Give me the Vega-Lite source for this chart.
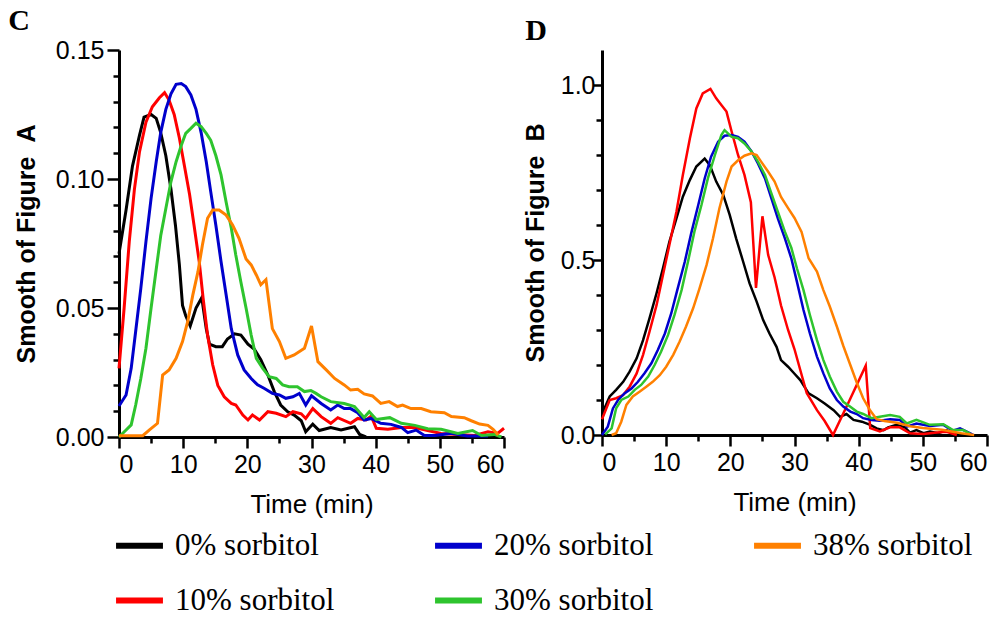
{
"$schema": "https://vega.github.io/schema/vega-lite/v6.json",
"background": "white",
"padding": {"left": 8, "top": 6, "right": 5, "bottom": 5},
"spacing": 13,
"config": {
  "view": {"stroke": null},
  "axis": {"domainColor": "black", "domainWidth": 3, "tickColor": "black", "tickWidth": 2.5, "labelFont": "Liberation Sans", "labelFontSize": 25, "labelColor": "black", "titleFont": "Liberation Sans", "titleColor": "black", "grid": false}
},
"datasets": {
"C": [
{"s":"0% sorbitol","t":0,"v":0.071},{"s":"0% sorbitol","t":1.1,"v":0.088},{"s":"0% sorbitol","t":2.1,"v":0.105},{"s":"0% sorbitol","t":3.2,"v":0.117},{"s":"0% sorbitol","t":3.9,"v":0.124},{"s":"0% sorbitol","t":5.0,"v":0.125},{"s":"0% sorbitol","t":5.8,"v":0.1235},{"s":"0% sorbitol","t":6.5,"v":0.118},{"s":"0% sorbitol","t":7.3,"v":0.109},{"s":"0% sorbitol","t":8.1,"v":0.096},{"s":"0% sorbitol","t":8.8,"v":0.082},{"s":"0% sorbitol","t":9.4,"v":0.067},{"s":"0% sorbitol","t":9.9,"v":0.051},{"s":"0% sorbitol","t":10.4,"v":0.047},{"s":"0% sorbitol","t":11.1,"v":0.043},{"s":"0% sorbitol","t":12.0,"v":0.050},{"s":"0% sorbitol","t":12.9,"v":0.054},{"s":"0% sorbitol","t":13.6,"v":0.042},{"s":"0% sorbitol","t":14.1,"v":0.036},{"s":"0% sorbitol","t":15.1,"v":0.035},{"s":"0% sorbitol","t":16.1,"v":0.035},{"s":"0% sorbitol","t":16.9,"v":0.038},{"s":"0% sorbitol","t":18.0,"v":0.040},{"s":"0% sorbitol","t":19.0,"v":0.0395},{"s":"0% sorbitol","t":20.1,"v":0.036},{"s":"0% sorbitol","t":21.1,"v":0.034},{"s":"0% sorbitol","t":22.1,"v":0.030},{"s":"0% sorbitol","t":23.2,"v":0.024},{"s":"0% sorbitol","t":24.2,"v":0.0176},{"s":"0% sorbitol","t":25.2,"v":0.0124},{"s":"0% sorbitol","t":26.3,"v":0.0098},{"s":"0% sorbitol","t":27.3,"v":0.0085},{"s":"0% sorbitol","t":28.4,"v":0.0063},{"s":"0% sorbitol","t":29.1,"v":0.002},{"s":"0% sorbitol","t":30.2,"v":0.005},{"s":"0% sorbitol","t":31.2,"v":0.0025},{"s":"0% sorbitol","t":33.0,"v":0.0037},{"s":"0% sorbitol","t":34.6,"v":0.0027},{"s":"0% sorbitol","t":36.7,"v":0.004},{"s":"0% sorbitol","t":37.5,"v":0.001},{"s":"0% sorbitol","t":38.5,"v":0},
{"s":"10% sorbitol","t":0,"v":0.0266},{"s":"10% sorbitol","t":0.8,"v":0.050},{"s":"10% sorbitol","t":1.6,"v":0.0757},{"s":"10% sorbitol","t":2.4,"v":0.096},{"s":"10% sorbitol","t":3.2,"v":0.1106},{"s":"10% sorbitol","t":4.2,"v":0.122},{"s":"10% sorbitol","t":5.2,"v":0.128},{"s":"10% sorbitol","t":6.3,"v":0.1315},{"s":"10% sorbitol","t":7.1,"v":0.1335},{"s":"10% sorbitol","t":7.8,"v":0.1306},{"s":"10% sorbitol","t":8.6,"v":0.125},{"s":"10% sorbitol","t":9.4,"v":0.116},{"s":"10% sorbitol","t":10.2,"v":0.105},{"s":"10% sorbitol","t":11.0,"v":0.094},{"s":"10% sorbitol","t":11.7,"v":0.082},{"s":"10% sorbitol","t":12.5,"v":0.068},{"s":"10% sorbitol","t":13.1,"v":0.054},{"s":"10% sorbitol","t":13.8,"v":0.0395},{"s":"10% sorbitol","t":14.6,"v":0.028},{"s":"10% sorbitol","t":15.4,"v":0.020},{"s":"10% sorbitol","t":16.4,"v":0.0156},{"s":"10% sorbitol","t":17.5,"v":0.013},{"s":"10% sorbitol","t":18.2,"v":0.0124},{"s":"10% sorbitol","t":19.3,"v":0.0085},{"s":"10% sorbitol","t":20.1,"v":0.0066},{"s":"10% sorbitol","t":20.8,"v":0.0085},{"s":"10% sorbitol","t":21.9,"v":0.0066},{"s":"10% sorbitol","t":23.2,"v":0.0098},{"s":"10% sorbitol","t":24.5,"v":0.0092},{"s":"10% sorbitol","t":26.0,"v":0.0079},{"s":"10% sorbitol","t":27.1,"v":0.0098},{"s":"10% sorbitol","t":28.4,"v":0.009},{"s":"10% sorbitol","t":29.1,"v":0.0072},{"s":"10% sorbitol","t":30.2,"v":0.011},{"s":"10% sorbitol","t":31.5,"v":0.0079},{"s":"10% sorbitol","t":33.0,"v":0.0053},{"s":"10% sorbitol","t":34.1,"v":0.0075},{"s":"10% sorbitol","t":36.1,"v":0.0053},{"s":"10% sorbitol","t":37.2,"v":0.0072},{"s":"10% sorbitol","t":38.5,"v":0.0066},{"s":"10% sorbitol","t":39.3,"v":0.0081},{"s":"10% sorbitol","t":40.1,"v":0.0034},{"s":"10% sorbitol","t":41.9,"v":0.003},{"s":"10% sorbitol","t":44.0,"v":0.0037},{"s":"10% sorbitol","t":46.1,"v":0.0037},{"s":"10% sorbitol","t":48.1,"v":0.0025},{"s":"10% sorbitol","t":50.2,"v":0.0014},{"s":"10% sorbitol","t":52.8,"v":0.001},{"s":"10% sorbitol","t":55.4,"v":0.0006},{"s":"10% sorbitol","t":57.5,"v":0.002},{"s":"10% sorbitol","t":59.0,"v":0.0014},{"s":"10% sorbitol","t":60.0,"v":0.0034},
{"s":"20% sorbitol","t":0,"v":0.012},{"s":"20% sorbitol","t":1.1,"v":0.0163},{"s":"20% sorbitol","t":1.9,"v":0.0266},{"s":"20% sorbitol","t":2.6,"v":0.041},{"s":"20% sorbitol","t":3.4,"v":0.0576},{"s":"20% sorbitol","t":4.2,"v":0.0757},{"s":"20% sorbitol","t":5.0,"v":0.0925},{"s":"20% sorbitol","t":5.8,"v":0.1067},{"s":"20% sorbitol","t":6.5,"v":0.118},{"s":"20% sorbitol","t":7.3,"v":0.127},{"s":"20% sorbitol","t":8.1,"v":0.133},{"s":"20% sorbitol","t":8.9,"v":0.1367},{"s":"20% sorbitol","t":9.7,"v":0.137},{"s":"20% sorbitol","t":10.4,"v":0.1358},{"s":"20% sorbitol","t":11.2,"v":0.1326},{"s":"20% sorbitol","t":12.0,"v":0.127},{"s":"20% sorbitol","t":12.8,"v":0.118},{"s":"20% sorbitol","t":13.6,"v":0.1067},{"s":"20% sorbitol","t":14.3,"v":0.095},{"s":"20% sorbitol","t":15.1,"v":0.082},{"s":"20% sorbitol","t":15.9,"v":0.068},{"s":"20% sorbitol","t":16.7,"v":0.055},{"s":"20% sorbitol","t":17.5,"v":0.042},{"s":"20% sorbitol","t":18.5,"v":0.0318},{"s":"20% sorbitol","t":19.5,"v":0.026},{"s":"20% sorbitol","t":20.6,"v":0.0227},{"s":"20% sorbitol","t":21.6,"v":0.0202},{"s":"20% sorbitol","t":22.6,"v":0.0189},{"s":"20% sorbitol","t":23.9,"v":0.0169},{"s":"20% sorbitol","t":25.0,"v":0.0163},{"s":"20% sorbitol","t":26.0,"v":0.015},{"s":"20% sorbitol","t":27.1,"v":0.0156},{"s":"20% sorbitol","t":28.1,"v":0.0169},{"s":"20% sorbitol","t":29.1,"v":0.0124},{"s":"20% sorbitol","t":30.0,"v":0.016},{"s":"20% sorbitol","t":31.5,"v":0.013},{"s":"20% sorbitol","t":33.0,"v":0.0105},{"s":"20% sorbitol","t":34.1,"v":0.0124},{"s":"20% sorbitol","t":35.1,"v":0.011},{"s":"20% sorbitol","t":36.1,"v":0.011},{"s":"20% sorbitol","t":37.2,"v":0.0094},{"s":"20% sorbitol","t":38.2,"v":0.0066},{"s":"20% sorbitol","t":39.3,"v":0.0072},{"s":"20% sorbitol","t":40.8,"v":0.0053},{"s":"20% sorbitol","t":42.4,"v":0.0049},{"s":"20% sorbitol","t":44.0,"v":0.0037},{"s":"20% sorbitol","t":45.0,"v":0.0017},{"s":"20% sorbitol","t":46.3,"v":0.0027},{"s":"20% sorbitol","t":47.6,"v":0.0006},{"s":"20% sorbitol","t":49.2,"v":0.0006},{"s":"20% sorbitol","t":51.7,"v":0.0014},{"s":"20% sorbitol","t":54.3,"v":0.0004},{"s":"20% sorbitol","t":57.5,"v":0.0004},
{"s":"30% sorbitol","t":0,"v":0},{"s":"30% sorbitol","t":1.1,"v":0.0027},{"s":"30% sorbitol","t":1.9,"v":0.0047},{"s":"30% sorbitol","t":2.6,"v":0.0124},{"s":"30% sorbitol","t":3.4,"v":0.0227},{"s":"30% sorbitol","t":4.2,"v":0.0344},{"s":"30% sorbitol","t":5.0,"v":0.050},{"s":"30% sorbitol","t":5.8,"v":0.065},{"s":"30% sorbitol","t":6.5,"v":0.078},{"s":"30% sorbitol","t":7.3,"v":0.0886},{"s":"30% sorbitol","t":8.1,"v":0.099},{"s":"30% sorbitol","t":8.9,"v":0.1067},{"s":"30% sorbitol","t":9.7,"v":0.113},{"s":"30% sorbitol","t":10.4,"v":0.1177},{"s":"30% sorbitol","t":11.2,"v":0.1196},{"s":"30% sorbitol","t":12.0,"v":0.1216},{"s":"30% sorbitol","t":12.8,"v":0.1203},{"s":"30% sorbitol","t":13.6,"v":0.1177},{"s":"30% sorbitol","t":14.3,"v":0.115},{"s":"30% sorbitol","t":15.1,"v":0.109},{"s":"30% sorbitol","t":15.9,"v":0.1016},{"s":"30% sorbitol","t":16.7,"v":0.091},{"s":"30% sorbitol","t":17.5,"v":0.081},{"s":"30% sorbitol","t":18.2,"v":0.0705},{"s":"30% sorbitol","t":19.0,"v":0.060},{"s":"30% sorbitol","t":19.8,"v":0.050},{"s":"30% sorbitol","t":20.6,"v":0.0395},{"s":"30% sorbitol","t":21.4,"v":0.0305},{"s":"30% sorbitol","t":22.4,"v":0.0266},{"s":"30% sorbitol","t":23.4,"v":0.0234},{"s":"30% sorbitol","t":24.5,"v":0.0227},{"s":"30% sorbitol","t":25.5,"v":0.0202},{"s":"30% sorbitol","t":26.5,"v":0.0195},{"s":"30% sorbitol","t":27.8,"v":0.0195},{"s":"30% sorbitol","t":28.9,"v":0.0176},{"s":"30% sorbitol","t":29.9,"v":0.018},{"s":"30% sorbitol","t":30.7,"v":0.0169},{"s":"30% sorbitol","t":31.5,"v":0.0156},{"s":"30% sorbitol","t":33.0,"v":0.0137},{"s":"30% sorbitol","t":35.1,"v":0.013},{"s":"30% sorbitol","t":36.7,"v":0.0118},{"s":"30% sorbitol","t":38.2,"v":0.0076},{"s":"30% sorbitol","t":39.0,"v":0.0098},{"s":"30% sorbitol","t":40.1,"v":0.0068},{"s":"30% sorbitol","t":42.2,"v":0.0075},{"s":"30% sorbitol","t":44.0,"v":0.0053},{"s":"30% sorbitol","t":46.1,"v":0.0045},{"s":"30% sorbitol","t":48.1,"v":0.0032},{"s":"30% sorbitol","t":50.2,"v":0.003},{"s":"30% sorbitol","t":52.8,"v":0.0014},{"s":"30% sorbitol","t":55.1,"v":0.0025},{"s":"30% sorbitol","t":56.5,"v":0.0006},{"s":"30% sorbitol","t":58.5,"v":0.001},{"s":"30% sorbitol","t":59.6,"v":0},
{"s":"38% sorbitol","t":0,"v":0.0005},{"s":"38% sorbitol","t":3.7,"v":0.0005},{"s":"38% sorbitol","t":4.7,"v":0.0027},{"s":"38% sorbitol","t":6.0,"v":0.0053},{"s":"38% sorbitol","t":6.8,"v":0.024},{"s":"38% sorbitol","t":7.8,"v":0.026},{"s":"38% sorbitol","t":8.9,"v":0.0305},{"s":"38% sorbitol","t":9.9,"v":0.037},{"s":"38% sorbitol","t":10.7,"v":0.0447},{"s":"38% sorbitol","t":11.5,"v":0.055},{"s":"38% sorbitol","t":12.3,"v":0.064},{"s":"38% sorbitol","t":13.0,"v":0.0744},{"s":"38% sorbitol","t":13.8,"v":0.0848},{"s":"38% sorbitol","t":14.6,"v":0.088},{"s":"38% sorbitol","t":15.6,"v":0.088},{"s":"38% sorbitol","t":16.7,"v":0.086},{"s":"38% sorbitol","t":17.7,"v":0.0822},{"s":"38% sorbitol","t":18.7,"v":0.077},{"s":"38% sorbitol","t":19.8,"v":0.069},{"s":"38% sorbitol","t":20.6,"v":0.0667},{"s":"38% sorbitol","t":21.4,"v":0.0628},{"s":"38% sorbitol","t":22.1,"v":0.059},{"s":"38% sorbitol","t":22.9,"v":0.061},{"s":"38% sorbitol","t":23.9,"v":0.042},{"s":"38% sorbitol","t":25.0,"v":0.037},{"s":"38% sorbitol","t":26.0,"v":0.0305},{"s":"38% sorbitol","t":27.3,"v":0.0318},{"s":"38% sorbitol","t":28.9,"v":0.0344},{"s":"38% sorbitol","t":30.0,"v":0.043},{"s":"38% sorbitol","t":31.0,"v":0.0292},{"s":"38% sorbitol","t":32.3,"v":0.026},{"s":"38% sorbitol","t":33.6,"v":0.0227},{"s":"38% sorbitol","t":35.1,"v":0.0202},{"s":"38% sorbitol","t":36.1,"v":0.0182},{"s":"38% sorbitol","t":37.2,"v":0.0185},{"s":"38% sorbitol","t":38.2,"v":0.0167},{"s":"38% sorbitol","t":39.5,"v":0.0159},{"s":"38% sorbitol","t":40.8,"v":0.013},{"s":"38% sorbitol","t":42.1,"v":0.0137},{"s":"38% sorbitol","t":43.4,"v":0.0118},{"s":"38% sorbitol","t":44.2,"v":0.0124},{"s":"38% sorbitol","t":45.5,"v":0.011},{"s":"38% sorbitol","t":47.1,"v":0.011},{"s":"38% sorbitol","t":48.6,"v":0.0098},{"s":"38% sorbitol","t":50.7,"v":0.0094},{"s":"38% sorbitol","t":51.8,"v":0.0079},{"s":"38% sorbitol","t":53.8,"v":0.0075},{"s":"38% sorbitol","t":54.9,"v":0.0063},{"s":"38% sorbitol","t":56.2,"v":0.005},{"s":"38% sorbitol","t":57.5,"v":0.0045},{"s":"38% sorbitol","t":58.3,"v":0.003},{"s":"38% sorbitol","t":59.1,"v":0.0008}
],
"D": [
{"s":"0% sorbitol","t":0,"v":0.06},{"s":"0% sorbitol","t":1.2,"v":0.11},{"s":"0% sorbitol","t":2.2,"v":0.129},{"s":"0% sorbitol","t":3.3,"v":0.152},{"s":"0% sorbitol","t":4.3,"v":0.181},{"s":"0% sorbitol","t":5.4,"v":0.219},{"s":"0% sorbitol","t":6.4,"v":0.271},{"s":"0% sorbitol","t":7.4,"v":0.333},{"s":"0% sorbitol","t":8.5,"v":0.405},{"s":"0% sorbitol","t":9.5,"v":0.476},{"s":"0% sorbitol","t":10.5,"v":0.552},{"s":"0% sorbitol","t":11.6,"v":0.619},{"s":"0% sorbitol","t":12.6,"v":0.681},{"s":"0% sorbitol","t":13.7,"v":0.729},{"s":"0% sorbitol","t":14.7,"v":0.767},{"s":"0% sorbitol","t":16.0,"v":0.79},{"s":"0% sorbitol","t":16.8,"v":0.771},{"s":"0% sorbitol","t":17.8,"v":0.724},{"s":"0% sorbitol","t":18.9,"v":0.686},{"s":"0% sorbitol","t":19.9,"v":0.629},{"s":"0% sorbitol","t":20.9,"v":0.562},{"s":"0% sorbitol","t":22.0,"v":0.495},{"s":"0% sorbitol","t":23.0,"v":0.433},{"s":"0% sorbitol","t":24.1,"v":0.381},{"s":"0% sorbitol","t":25.1,"v":0.329},{"s":"0% sorbitol","t":26.1,"v":0.29},{"s":"0% sorbitol","t":27.2,"v":0.252},{"s":"0% sorbitol","t":27.9,"v":0.214},{"s":"0% sorbitol","t":29.0,"v":0.195},{"s":"0% sorbitol","t":30.0,"v":0.175},{"s":"0% sorbitol","t":30.9,"v":0.157},{"s":"0% sorbitol","t":32.2,"v":0.119},{"s":"0% sorbitol","t":33.5,"v":0.105},{"s":"0% sorbitol","t":34.7,"v":0.09},{"s":"0% sorbitol","t":36.1,"v":0.071},{"s":"0% sorbitol","t":37.1,"v":0.052},{"s":"0% sorbitol","t":38.1,"v":0.06},{"s":"0% sorbitol","t":39.2,"v":0.043},{"s":"0% sorbitol","t":40.5,"v":0.038},{"s":"0% sorbitol","t":41.8,"v":0.029},{"s":"0% sorbitol","t":42.8,"v":0.019},{"s":"0% sorbitol","t":43.9,"v":0.014},{"s":"0% sorbitol","t":44.6,"v":0.022},{"s":"0% sorbitol","t":45.9,"v":0.029},{"s":"0% sorbitol","t":47.2,"v":0.022},{"s":"0% sorbitol","t":48.0,"v":0.007},{"s":"0% sorbitol","t":49.0,"v":0.014},{"s":"0% sorbitol","t":50.1,"v":0.005},{"s":"0% sorbitol","t":51.1,"v":0.01},{"s":"0% sorbitol","t":52.4,"v":0.005},{"s":"0% sorbitol","t":53.7,"v":0.014},{"s":"0% sorbitol","t":54.7,"v":0.003},{"s":"0% sorbitol","t":56.3,"v":0},
{"s":"10% sorbitol","t":0,"v":0.045},{"s":"10% sorbitol","t":1.2,"v":0.1},{"s":"10% sorbitol","t":2.2,"v":0.105},{"s":"10% sorbitol","t":3.3,"v":0.114},{"s":"10% sorbitol","t":4.3,"v":0.138},{"s":"10% sorbitol","t":5.4,"v":0.176},{"s":"10% sorbitol","t":6.4,"v":0.229},{"s":"10% sorbitol","t":7.4,"v":0.295},{"s":"10% sorbitol","t":8.5,"v":0.371},{"s":"10% sorbitol","t":9.5,"v":0.457},{"s":"10% sorbitol","t":10.5,"v":0.543},{"s":"10% sorbitol","t":11.6,"v":0.638},{"s":"10% sorbitol","t":12.6,"v":0.743},{"s":"10% sorbitol","t":13.7,"v":0.848},{"s":"10% sorbitol","t":14.7,"v":0.933},{"s":"10% sorbitol","t":15.7,"v":0.976},{"s":"10% sorbitol","t":16.9,"v":0.989},{"s":"10% sorbitol","t":17.8,"v":0.962},{"s":"10% sorbitol","t":18.6,"v":0.943},{"s":"10% sorbitol","t":19.4,"v":0.924},{"s":"10% sorbitol","t":20.2,"v":0.867},{"s":"10% sorbitol","t":21.2,"v":0.8},{"s":"10% sorbitol","t":22.2,"v":0.743},{"s":"10% sorbitol","t":23.2,"v":0.665},{"s":"10% sorbitol","t":24.0,"v":0.42},{"s":"10% sorbitol","t":25.0,"v":0.625},{"s":"10% sorbitol","t":25.9,"v":0.514},{"s":"10% sorbitol","t":26.9,"v":0.45},{"s":"10% sorbitol","t":27.9,"v":0.37},{"s":"10% sorbitol","t":29.0,"v":0.3},{"s":"10% sorbitol","t":30.0,"v":0.245},{"s":"10% sorbitol","t":31.9,"v":0.12},{"s":"10% sorbitol","t":33.5,"v":0.071},{"s":"10% sorbitol","t":34.7,"v":0.04},{"s":"10% sorbitol","t":36.0,"v":0},{"s":"10% sorbitol","t":38.6,"v":0.1},{"s":"10% sorbitol","t":41.1,"v":0.198},{"s":"10% sorbitol","t":41.8,"v":0.02},{"s":"10% sorbitol","t":43.3,"v":0.01},{"s":"10% sorbitol","t":44.9,"v":0.022},{"s":"10% sorbitol","t":46.4,"v":0.022},{"s":"10% sorbitol","t":48.0,"v":0.005},{"s":"10% sorbitol","t":50.1,"v":0.003},{"s":"10% sorbitol","t":52.2,"v":0.007},{"s":"10% sorbitol","t":53.7,"v":0.009},{"s":"10% sorbitol","t":55.3,"v":0},
{"s":"20% sorbitol","t":0,"v":0},{"s":"20% sorbitol","t":0.9,"v":0.024},{"s":"20% sorbitol","t":1.7,"v":0.076},{"s":"20% sorbitol","t":2.5,"v":0.1},{"s":"20% sorbitol","t":3.5,"v":0.119},{"s":"20% sorbitol","t":4.6,"v":0.133},{"s":"20% sorbitol","t":5.6,"v":0.152},{"s":"20% sorbitol","t":6.6,"v":0.176},{"s":"20% sorbitol","t":7.7,"v":0.205},{"s":"20% sorbitol","t":8.7,"v":0.243},{"s":"20% sorbitol","t":9.8,"v":0.29},{"s":"20% sorbitol","t":10.8,"v":0.348},{"s":"20% sorbitol","t":11.8,"v":0.419},{"s":"20% sorbitol","t":12.9,"v":0.495},{"s":"20% sorbitol","t":13.9,"v":0.576},{"s":"20% sorbitol","t":15.0,"v":0.657},{"s":"20% sorbitol","t":16.0,"v":0.733},{"s":"20% sorbitol","t":17.0,"v":0.795},{"s":"20% sorbitol","t":18.1,"v":0.838},{"s":"20% sorbitol","t":19.1,"v":0.855},{"s":"20% sorbitol","t":20.2,"v":0.857},{"s":"20% sorbitol","t":21.2,"v":0.852},{"s":"20% sorbitol","t":22.2,"v":0.838},{"s":"20% sorbitol","t":23.3,"v":0.81},{"s":"20% sorbitol","t":24.3,"v":0.776},{"s":"20% sorbitol","t":25.4,"v":0.733},{"s":"20% sorbitol","t":26.4,"v":0.676},{"s":"20% sorbitol","t":27.4,"v":0.619},{"s":"20% sorbitol","t":28.5,"v":0.562},{"s":"20% sorbitol","t":29.5,"v":0.505},{"s":"20% sorbitol","t":30.4,"v":0.436},{"s":"20% sorbitol","t":31.4,"v":0.357},{"s":"20% sorbitol","t":32.4,"v":0.29},{"s":"20% sorbitol","t":33.5,"v":0.224},{"s":"20% sorbitol","t":34.5,"v":0.176},{"s":"20% sorbitol","t":35.5,"v":0.133},{"s":"20% sorbitol","t":36.6,"v":0.1},{"s":"20% sorbitol","t":37.6,"v":0.081},{"s":"20% sorbitol","t":38.7,"v":0.067},{"s":"20% sorbitol","t":39.7,"v":0.06},{"s":"20% sorbitol","t":40.7,"v":0.048},{"s":"20% sorbitol","t":42.0,"v":0.043},{"s":"20% sorbitol","t":43.3,"v":0.041},{"s":"20% sorbitol","t":44.9,"v":0.045},{"s":"20% sorbitol","t":46.4,"v":0.043},{"s":"20% sorbitol","t":47.5,"v":0.024},{"s":"20% sorbitol","t":49.0,"v":0.033},{"s":"20% sorbitol","t":51.1,"v":0.026},{"s":"20% sorbitol","t":53.2,"v":0.029},{"s":"20% sorbitol","t":54.7,"v":0.012},{"s":"20% sorbitol","t":55.8,"v":0.019},{"s":"20% sorbitol","t":57.4,"v":0.005},{"s":"20% sorbitol","t":57.9,"v":0},
{"s":"30% sorbitol","t":0.5,"v":0.002},{"s":"30% sorbitol","t":1.5,"v":0.019},{"s":"30% sorbitol","t":2.2,"v":0.076},{"s":"30% sorbitol","t":3.0,"v":0.1},{"s":"30% sorbitol","t":4.1,"v":0.11},{"s":"30% sorbitol","t":5.1,"v":0.129},{"s":"30% sorbitol","t":6.1,"v":0.143},{"s":"30% sorbitol","t":7.2,"v":0.167},{"s":"30% sorbitol","t":8.2,"v":0.2},{"s":"30% sorbitol","t":9.2,"v":0.238},{"s":"30% sorbitol","t":10.3,"v":0.286},{"s":"30% sorbitol","t":11.3,"v":0.343},{"s":"30% sorbitol","t":12.4,"v":0.414},{"s":"30% sorbitol","t":13.4,"v":0.495},{"s":"30% sorbitol","t":14.4,"v":0.581},{"s":"30% sorbitol","t":15.5,"v":0.657},{"s":"30% sorbitol","t":16.5,"v":0.733},{"s":"30% sorbitol","t":17.6,"v":0.8},{"s":"30% sorbitol","t":18.6,"v":0.857},{"s":"30% sorbitol","t":19.1,"v":0.871},{"s":"30% sorbitol","t":20.2,"v":0.852},{"s":"30% sorbitol","t":21.2,"v":0.848},{"s":"30% sorbitol","t":22.2,"v":0.833},{"s":"30% sorbitol","t":23.3,"v":0.81},{"s":"30% sorbitol","t":24.3,"v":0.781},{"s":"30% sorbitol","t":25.4,"v":0.743},{"s":"30% sorbitol","t":26.4,"v":0.69},{"s":"30% sorbitol","t":27.4,"v":0.638},{"s":"30% sorbitol","t":28.5,"v":0.581},{"s":"30% sorbitol","t":29.5,"v":0.535},{"s":"30% sorbitol","t":30.4,"v":0.475},{"s":"30% sorbitol","t":31.4,"v":0.414},{"s":"30% sorbitol","t":32.4,"v":0.343},{"s":"30% sorbitol","t":33.5,"v":0.271},{"s":"30% sorbitol","t":34.5,"v":0.214},{"s":"30% sorbitol","t":35.5,"v":0.167},{"s":"30% sorbitol","t":36.6,"v":0.124},{"s":"30% sorbitol","t":37.6,"v":0.095},{"s":"30% sorbitol","t":38.7,"v":0.081},{"s":"30% sorbitol","t":39.7,"v":0.067},{"s":"30% sorbitol","t":40.7,"v":0.06},{"s":"30% sorbitol","t":42.0,"v":0.048},{"s":"30% sorbitol","t":43.3,"v":0.052},{"s":"30% sorbitol","t":44.9,"v":0.057},{"s":"30% sorbitol","t":46.4,"v":0.052},{"s":"30% sorbitol","t":47.5,"v":0.033},{"s":"30% sorbitol","t":49.0,"v":0.043},{"s":"30% sorbitol","t":51.1,"v":0.029},{"s":"30% sorbitol","t":53.2,"v":0.031},{"s":"30% sorbitol","t":54.7,"v":0.014},{"s":"30% sorbitol","t":56.3,"v":0.014},{"s":"30% sorbitol","t":57.4,"v":0.003},
{"s":"38% sorbitol","t":1.5,"v":0},{"s":"38% sorbitol","t":2.2,"v":0.005},{"s":"38% sorbitol","t":3.0,"v":0.038},{"s":"38% sorbitol","t":3.8,"v":0.086},{"s":"38% sorbitol","t":4.8,"v":0.11},{"s":"38% sorbitol","t":5.9,"v":0.124},{"s":"38% sorbitol","t":6.9,"v":0.138},{"s":"38% sorbitol","t":7.9,"v":0.152},{"s":"38% sorbitol","t":9.0,"v":0.171},{"s":"38% sorbitol","t":10.0,"v":0.195},{"s":"38% sorbitol","t":11.1,"v":0.229},{"s":"38% sorbitol","t":12.1,"v":0.267},{"s":"38% sorbitol","t":13.1,"v":0.31},{"s":"38% sorbitol","t":14.2,"v":0.362},{"s":"38% sorbitol","t":15.2,"v":0.419},{"s":"38% sorbitol","t":16.3,"v":0.486},{"s":"38% sorbitol","t":17.3,"v":0.562},{"s":"38% sorbitol","t":18.3,"v":0.648},{"s":"38% sorbitol","t":19.4,"v":0.724},{"s":"38% sorbitol","t":20.2,"v":0.767},{"s":"38% sorbitol","t":21.2,"v":0.785},{"s":"38% sorbitol","t":22.2,"v":0.798},{"s":"38% sorbitol","t":23.3,"v":0.805},{"s":"38% sorbitol","t":24.1,"v":0.8},{"s":"38% sorbitol","t":24.8,"v":0.781},{"s":"38% sorbitol","t":25.9,"v":0.752},{"s":"38% sorbitol","t":26.9,"v":0.724},{"s":"38% sorbitol","t":27.9,"v":0.68},{"s":"38% sorbitol","t":29.0,"v":0.648},{"s":"38% sorbitol","t":30.0,"v":0.62},{"s":"38% sorbitol","t":31.1,"v":0.58},{"s":"38% sorbitol","t":32.2,"v":0.505},{"s":"38% sorbitol","t":33.5,"v":0.467},{"s":"38% sorbitol","t":34.5,"v":0.414},{"s":"38% sorbitol","t":35.5,"v":0.367},{"s":"38% sorbitol","t":36.6,"v":0.31},{"s":"38% sorbitol","t":37.6,"v":0.255},{"s":"38% sorbitol","t":38.7,"v":0.2},{"s":"38% sorbitol","t":39.7,"v":0.15},{"s":"38% sorbitol","t":40.7,"v":0.105},{"s":"38% sorbitol","t":41.8,"v":0.07},{"s":"38% sorbitol","t":42.8,"v":0.045},{"s":"38% sorbitol","t":44.0,"v":0.04},{"s":"38% sorbitol","t":46.0,"v":0.035},{"s":"38% sorbitol","t":48.0,"v":0.025},{"s":"38% sorbitol","t":50.0,"v":0.02},{"s":"38% sorbitol","t":53.0,"v":0.015},{"s":"38% sorbitol","t":56.0,"v":0.005},{"s":"38% sorbitol","t":58.0,"v":0}
]
},
"hconcat": [
{
  "width": 385, "height": 387,
  "title": {"text": "C", "anchor": "start", "frame": "bounds", "font": "Liberation Serif", "fontSize": 30, "fontWeight": "bold", "color": "black", "offset": 2, "dx": -6},
  "data": {"name": "C"},
  "mark": {"type": "line", "strokeWidth": 3},
  "encoding": {
    "x": {"field": "t", "type": "quantitative", "scale": {"domain": [0, 60], "nice": false},
      "axis": {"values": [0,5,10,15,20,25,30,35,40,45,50,55,60], "labelExpr": "datum.value % 10 === 0 ? datum.label : ''", "title": "Time (min)", "titleFontSize": 26, "titleFontWeight": "normal", "tickSize": {"condition": {"test": "datum.value % 10 === 0", "value": 11}, "value": 6}, "labelPadding": 4, "titlePadding": 14}},
    "y": {"field": "v", "type": "quantitative", "scale": {"domain": [0, 0.15], "nice": false},
      "axis": {"values": [0,0.01,0.02,0.03,0.04,0.05,0.06,0.07,0.08,0.09,0.1,0.11,0.12,0.13,0.14,0.15], "labelExpr": "abs(datum.value*20 - round(datum.value*20)) < 0.000001 ? format(datum.value, '.2f') : ''", "title": "Smooth of Figure\u00a0\u00a0A", "titleFontSize": 25, "titleFontWeight": "bold", "tickSize": {"condition": {"test": "abs(datum.value*20 - round(datum.value*20)) < 0.000001", "value": 12}, "value": 6}, "labelPadding": 3, "titlePadding": 16}},
    "color": {"field": "s", "type": "nominal",
      "scale": {"domain": ["0% sorbitol","20% sorbitol","38% sorbitol","10% sorbitol","30% sorbitol"], "range": ["#000000","#0000cc","#ff8000","#ff0000","#2ec42e"]},
      "legend": {"orient": "none", "legendX": -6, "legendY": 469, "columns": 3, "direction": "horizontal", "title": null, "symbolType": "stroke", "symbolStrokeWidth": 6, "symbolSize": 2200, "labelFont": "Liberation Serif", "labelFontSize": 31, "labelColor": "black", "labelOffset": 9, "columnPadding": 88, "rowPadding": 13, "gridAlign": "all", "labelLimit": 400}}
  }
},
{
  "width": 385, "height": 385,
  "title": {"text": "D", "anchor": "start", "frame": "bounds", "font": "Liberation Serif", "fontSize": 30, "fontWeight": "bold", "color": "black", "offset": 4, "dx": 2},
  "data": {"name": "D"},
  "mark": {"type": "line", "strokeWidth": 2.5},
  "encoding": {
    "x": {"field": "t", "type": "quantitative", "scale": {"domain": [0, 60], "nice": false},
      "axis": {"values": [0,5,10,15,20,25,30,35,40,45,50,55,60], "labelExpr": "datum.value % 10 === 0 ? datum.label : ''", "title": "Time (min)", "titleFontSize": 26, "titleFontWeight": "normal", "tickSize": {"condition": {"test": "datum.value % 10 === 0", "value": 11}, "value": 6}, "labelPadding": 4, "titlePadding": 14}},
    "y": {"field": "v", "type": "quantitative", "scale": {"domain": [0, 1.1], "nice": false},
      "axis": {"values": [0,0.1,0.2,0.3,0.4,0.5,0.6,0.7,0.8,0.9,1.0], "labelExpr": "abs(datum.value*2 - round(datum.value*2)) < 0.000001 ? format(datum.value, '.1f') : ''", "title": "Smooth of Figure\u00a0\u00a0B", "titleFontSize": 25, "titleFontWeight": "bold", "tickSize": {"condition": {"test": "abs(datum.value*2 - round(datum.value*2)) < 0.000001", "value": 9}, "value": 6}, "labelPadding": -2, "titlePadding": 12}},
    "color": {"field": "s", "type": "nominal",
      "scale": {"domain": ["0% sorbitol","20% sorbitol","38% sorbitol","10% sorbitol","30% sorbitol"], "range": ["#000000","#0000cc","#ff8000","#ff0000","#2ec42e"]}}
  }
}
],
"resolve": {"scale": {"color": "shared"}}
}
